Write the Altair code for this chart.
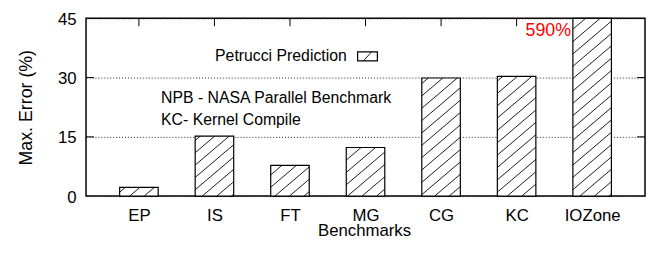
import altair as alt
import pandas as pd
import numpy as np

categories = ["EP", "IS", "FT", "MG", "CG", "KC", "IOZone"]
errors = [2.2, 15.2, 7.8, 12.3, 29.9, 30.3, 590]
y_ticks = [0, 15, 30, 45]
x_title = "Benchmarks"
y_title = "Max. Error (%)"
legend_label = "Petrucci Prediction"
note_line1 = "NPB - NASA Parallel Benchmark"
note_line2 = "KC- Kernel Compile"
overflow_label = "590%"

FONT = "Liberation Sans"
W, H = 566, 180
X_DOMAIN = [0.3, 7.7]
Y_MAX = 45
BAR_HALF = 0.255

pos = list(range(1, len(categories) + 1))
bars = pd.DataFrame({"pos": pos, "cat": categories, "err": errors})
bars["x0"] = bars.pos - BAR_HALF
bars["x1"] = bars.pos + BAR_HALF
bars["shown"] = bars.err.clip(upper=Y_MAX)

# hatch segments derived from the bar rectangles
px_per_x = W / (X_DOMAIN[1] - X_DOMAIN[0])
px_per_y = H / Y_MAX
slope = 0.85
spacing = 12.5
segs = []
for _, r in bars.iterrows():
    xl = (r.x0 - X_DOMAIN[0]) * px_per_x
    xr = (r.x1 - X_DOMAIN[0]) * px_per_x
    h = r.shown * px_per_y
    k0 = int(np.floor(-slope * xr / spacing))
    k1 = int(np.ceil((h - slope * xl) / spacing))
    for k in range(k0, k1 + 1):
        c = k * spacing
        xa = max(xl, (0 - c) / slope)
        xb = min(xr, (h - c) / slope)
        if xb - xa > 0.5:
            segs.append(dict(
                hx=xa / px_per_x + X_DOMAIN[0], hx2=xb / px_per_x + X_DOMAIN[0],
                hy=(slope * xa + c) / px_per_y, hy2=(slope * xb + c) / px_per_y))
hatch = pd.DataFrame(segs)

xscale = alt.Scale(domain=X_DOMAIN, nice=False, zero=False)
yscale = alt.Scale(domain=[0, Y_MAX], nice=False, zero=False)

label_expr = "[" + ",".join("'%s'" % c for c in categories) + "][datum.value - 1]"

xaxis = alt.Axis(values=pos, labelExpr=label_expr, grid=False, ticks=False, domain=False,
                 labelPadding=12, labelFontSize=17, title=None, labelColor="black")
yaxis = alt.Axis(values=y_ticks, grid=True, gridDash=[1, 2], gridColor="#222", gridWidth=1,
                 ticks=False, domain=False, labelPadding=10, labelFontSize=17, labelOffset=1,
                 title=y_title, titleFontSize=18, titleFontWeight="normal",
                 titlePadding=22, labelColor="black", titleColor="black")


def X(field):
    return alt.X(field, scale=xscale, axis=xaxis)


def Y(field):
    return alt.Y(field, scale=yscale, axis=yaxis)


one = pd.DataFrame({"k": [0]})

top_ticks = alt.Chart(bars).mark_rule(color="black", strokeWidth=1).encode(
    x=X("pos:Q"), y=alt.value(0), y2=alt.value(8),
)

inner_y = pd.DataFrame({"v": y_ticks[1:-1]})
left_ticks = alt.Chart(inner_y).mark_rule(color="black").encode(
    y=Y("v:Q"), x=alt.value(0), x2=alt.value(8))
right_ticks = alt.Chart(inner_y).mark_rule(color="black").encode(
    y=Y("v:Q"), x=alt.value(W - 8), x2=alt.value(W))

bar_layer = alt.Chart(bars).mark_rect(fill="white", stroke="black", strokeWidth=1.2).encode(
    x=X("x0:Q"), x2="x1:Q",
    y=Y("shown:Q"), y2=alt.datum(0),
)

hatch_layer = alt.Chart(hatch).mark_rule(color="black", strokeWidth=0.9).encode(
    x=X("hx:Q"), x2="hx2:Q",
    y=Y("hy:Q"), y2="hy2:Q",
)

legend_box = alt.Chart(one).mark_rect(fill="white", stroke="black", strokeWidth=1.2).encode(
    x=alt.value(275), x2=alt.value(295), y=alt.value(34), y2=alt.value(43))
legend_line = alt.Chart(one).mark_rule(color="black", strokeWidth=0.9).encode(
    x=alt.value(281), x2=alt.value(289), y=alt.value(43), y2=alt.value(34))
legend_text = alt.Chart(one).mark_text(align="right", baseline="middle", fontSize=16,
                                       font=FONT, color="black").encode(
    x=alt.value(264), y=alt.value(38.5), text=alt.value(legend_label))

note1 = alt.Chart(one).mark_text(align="left", baseline="middle", fontSize=16,
                                 font=FONT, color="black").encode(
    x=alt.value(76), y=alt.value(81), text=alt.value(note_line1))
note2 = alt.Chart(one).mark_text(align="left", baseline="middle", fontSize=16,
                                 font=FONT, color="black").encode(
    x=alt.value(76), y=alt.value(102.5), text=alt.value(note_line2))

over = alt.Chart(one).mark_text(align="right", baseline="middle", fontSize=18,
                                font=FONT, color="#ff0000").encode(
    x=alt.value(491), y=alt.value(12.5), text=alt.value(overflow_label))

xtitle = alt.Chart(one).mark_text(align="center", baseline="alphabetic", fontSize=17,
                                  font=FONT, color="black").encode(
    x=alt.value(W / 2 - 1), y=alt.value(H + 40), text=alt.value(x_title))

chart = alt.layer(
    top_ticks, left_ticks, right_ticks, bar_layer, hatch_layer,
    legend_box, legend_line, legend_text, note1, note2, over, xtitle,
).properties(
    width=W, height=H,
    autosize=alt.AutoSizeParams(type="none"),
    padding={"left": 79, "top": 9, "right": 2, "bottom": 45},
).configure(font=FONT).configure_view(stroke="black", strokeWidth=1.5).configure_axis(
    labelFont=FONT, titleFont=FONT)

chart.save("out.html", embed_options={"renderer": "svg", "actions": False})
